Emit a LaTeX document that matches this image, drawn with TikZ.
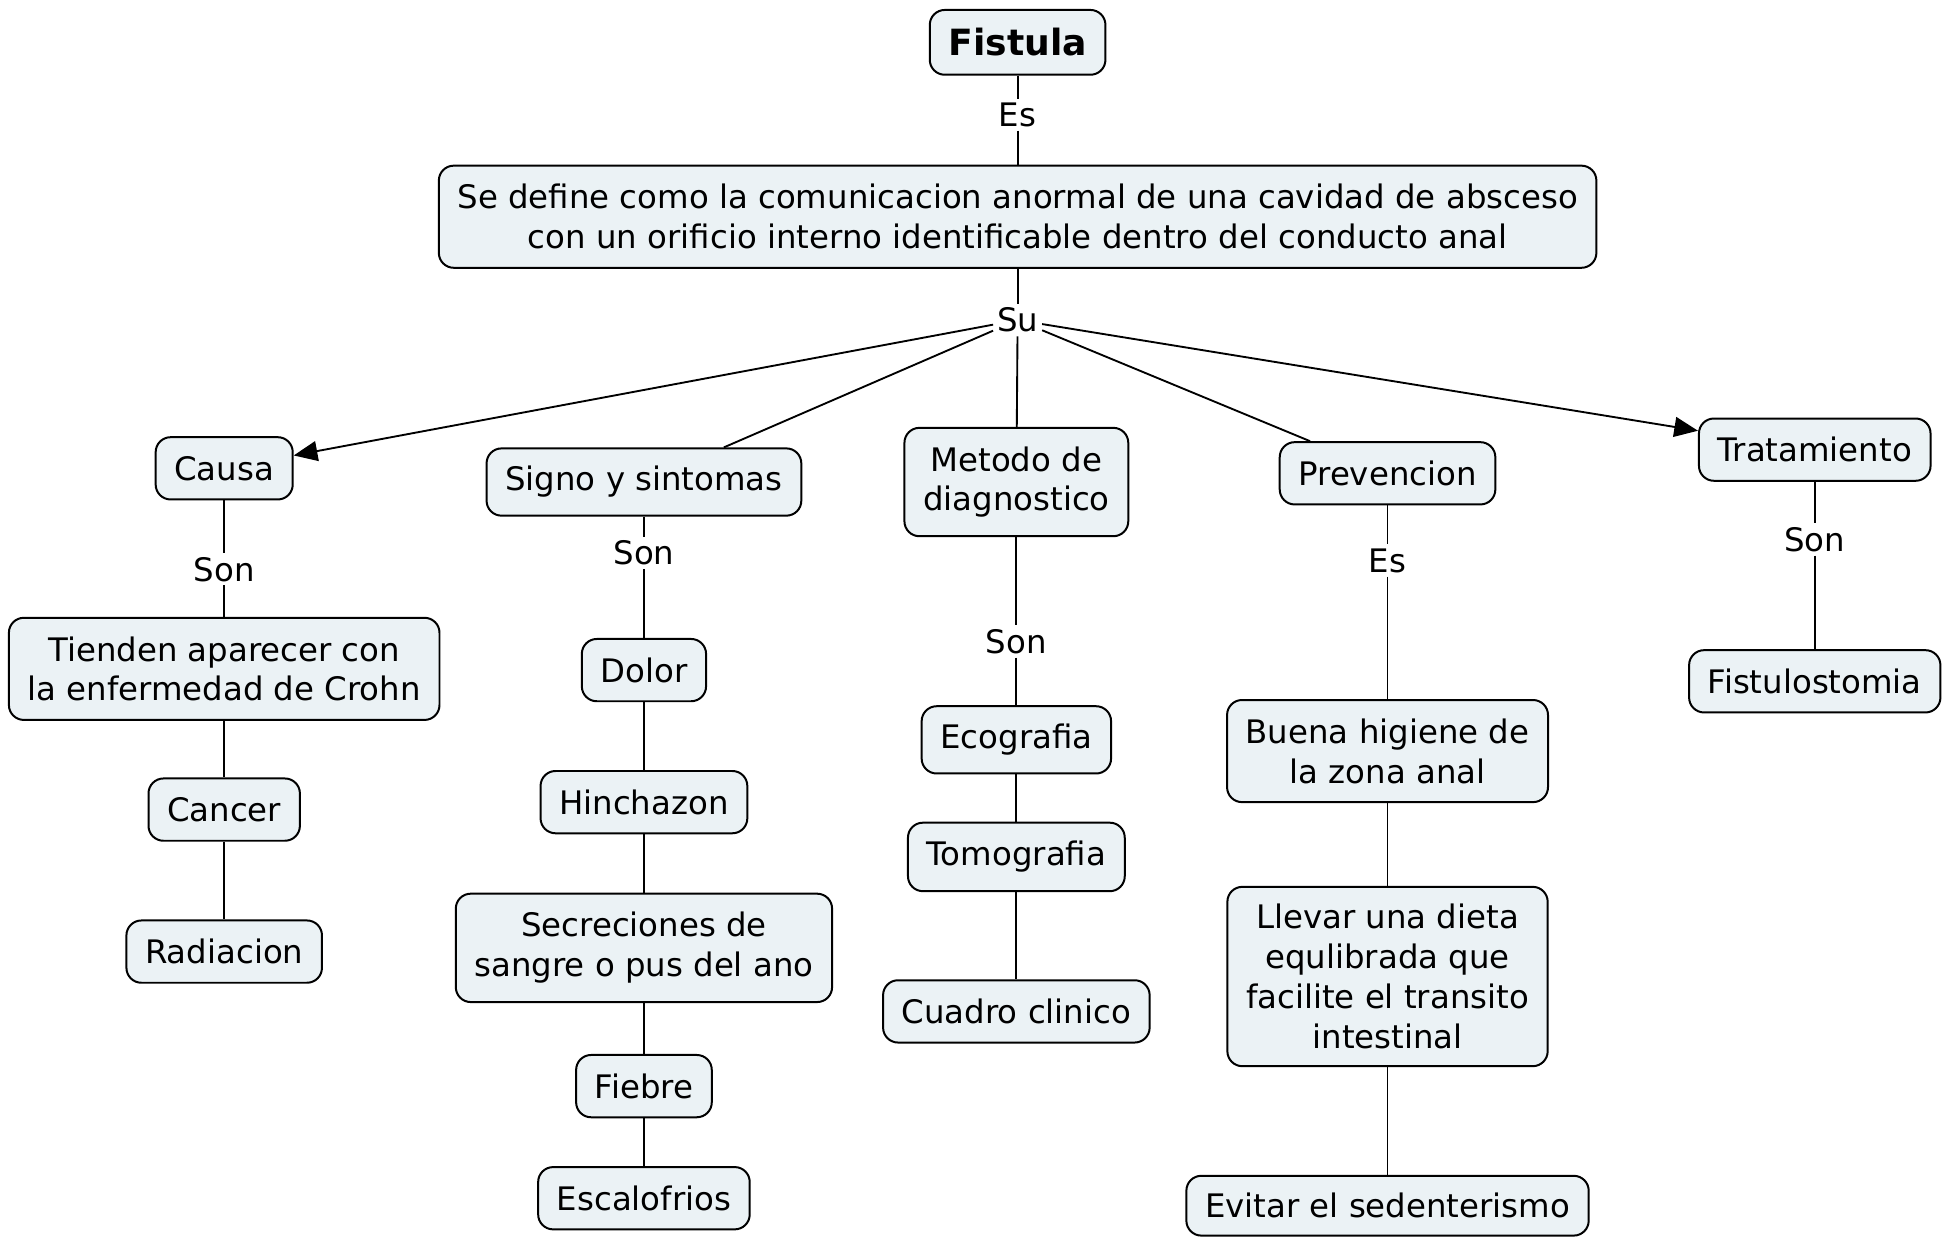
\documentclass[tikz,border=0pt]{standalone}
\usepackage{fontspec}
\setmainfont{DejaVu Sans}
\usetikzlibrary{arrows.meta}
\definecolor{cmapfill}{RGB}{235,242,245}
\tikzset{
	concept/.style={draw=black, fill=cmapfill, line width=1.6pt, rounded corners=12pt, align=center, inner xsep=15pt, inner ysep=0pt, minimum height=50pt},
	twoline/.style={minimum height=84pt},
	linkword/.style={inner sep=3pt},
	link/.style={line width=1.5pt},
	linkarrow/.style={line width=1.5pt, -{Triangle[length=19pt,width=16pt]}}
}

\begin{document}
\begin{tikzpicture}[x=1pt, y=-1pt, font=\fontsize{26}{32}\selectfont]
			\useasboundingbox (0,0) rectangle (1568,994);
			
			%%%%% TOP %%%%%
			
			\node[concept, minimum height=52pt, font=\fontsize{29}{34}\selectfont\bfseries] (fistula) at (817,34) {Fistula};
			\node[linkword] (es1) at (817,92) {Es};
			\node[concept, twoline, minimum height=82pt] (def) at (817,174) {Se define como la comunicacion anormal de una cavidad de absceso\\con un orificio interno identificable dentro del conducto anal};
			\node[linkword] (su) at (817,257) {Su};
			
			\draw[link] (fistula) -- (es1) -- (def);
			\draw[link] (def) -- (su);
			
			%%%%% CAUSA %%%%%
			
			\node[concept] (causa) at (180,376) {Causa};
			\node[linkword] (son1) at (180,457) {Son};
			\node[concept, twoline, minimum height=82pt] (crohn) at (180,537) {Tienden aparecer con\\la enfermedad de Crohn};
			\node[concept] (cancer) at (180,650) {Cancer};
			\node[concept] (radiacion) at (180,764) {Radiacion};
			
			\draw[link] (causa) -- (son1) -- (crohn) -- (cancer) -- (radiacion);
			
			%%%%% SIGNOS %%%%%
			
			\node[concept, minimum height=54pt] (signo) at (517,387) {Signo y sintomas};
			\node[linkword] (son2) at (517,444) {Son};
			\node[concept] (dolor) at (517,538) {Dolor};
			\node[concept] (hinchazon) at (517,644) {Hinchazon};
			\node[concept, twoline, minimum height=87pt] (secrecion) at (517,761) {Secreciones de\\sangre o pus del ano};
			\node[concept] (fiebre) at (517,872) {Fiebre};
			\node[concept] (escalofrio) at (517,962) {Escalofrios};
			
			\draw[link] (signo) -- (son2) -- (dolor) -- (hinchazon) -- (secrecion) -- (fiebre) -- (escalofrio);
			
			%%%%% DIAGNOSTICO %%%%%
			
			\node[concept, twoline, minimum height=87pt] (metodo) at (816,387) {Metodo de\\diagnostico};
			\node[linkword] (son3) at (816,515) {Son};
			\node[concept, minimum height=54pt] (ecografia) at (816,594) {Ecografia};
			\node[concept, minimum height=55pt] (tomografia) at (816,688) {Tomografia};
			\node[concept] (cuadro) at (816,812) {Cuadro clinico};
			
			\draw[link] (metodo) -- (son3) -- (ecografia) -- (tomografia) -- (cuadro);
			
			%%%%% PREVENCION %%%%%
			
			\node[concept] (prevencion) at (1114,380) {Prevencion};
			\node[linkword] (es2) at (1114,450) {Es};
			\node[concept, twoline, minimum height=82pt] (higiene) at (1114,603) {Buena higiene de\\la zona anal};
			\node[concept, minimum height=144pt] (dieta) at (1114,784) {Llevar una dieta\\equlibrada que\\facilite el transito\\intestinal};
			\node[concept, minimum height=48pt] (sedentario) at (1114,968) {Evitar el sedenterismo};
			
			\draw[link] (prevencion) -- (es2) -- (higiene) -- (dieta) -- (sedentario);
			
			%%%%% TRATAMIENTO %%%%%
			
			\node[concept] (tratamiento) at (1457,361) {Tratamiento};
			\node[linkword] (son4) at (1457,433) {Son};
			\node[concept] (fistulostomia) at (1457,547) {Fistulostomia};
			
			\draw[link] (tratamiento) -- (son4) -- (fistulostomia);
			
			%%%%% SU %%%%%
			
			\draw[linkarrow] (su) -- (causa);
			\draw[link] (su) -- (signo);
			\draw[link] (su) -- (metodo);
			\draw[link] (su) -- (prevencion);
			\draw[linkarrow] (su) -- (tratamiento);
			
			%%%%% END %%%%%
\end{tikzpicture}
\end{document}
